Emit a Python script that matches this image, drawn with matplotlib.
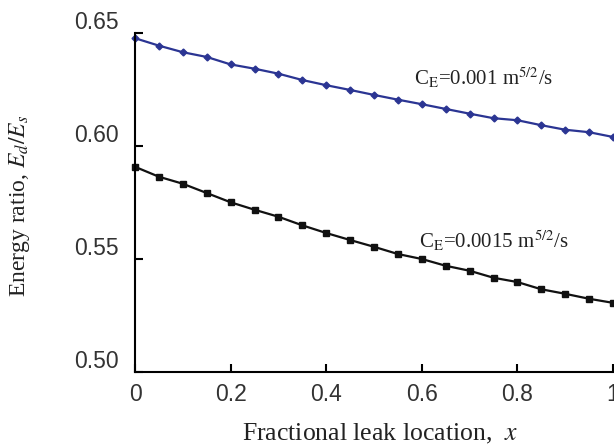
import matplotlib
matplotlib.use("Agg")
import matplotlib.pyplot as plt
import matplotlib.transforms as mtransforms

# fractional leak location
x = [0.0, 0.05, 0.1, 0.15, 0.2, 0.25, 0.3, 0.35, 0.4, 0.45, 0.5,
     0.55, 0.6, 0.65, 0.7, 0.75, 0.8, 0.85, 0.9, 0.95, 1.0]
# C_E = 0.001
ratio_001 = [0.6477, 0.6444, 0.6415, 0.6394, 0.6361, 0.6342, 0.6320, 0.6292,
             0.6269, 0.6248, 0.6226, 0.6205, 0.6185, 0.6164, 0.6143, 0.6123,
             0.6114, 0.6092, 0.6072, 0.6061, 0.6040]
# C_E = 0.0015
ratio_0015 = [0.5908, 0.5864, 0.5833, 0.5792, 0.5751, 0.5718, 0.5687, 0.5649,
              0.5615, 0.5584, 0.5554, 0.5522, 0.5500, 0.5470, 0.5448, 0.5417,
              0.5398, 0.5366, 0.5346, 0.5324, 0.5306]
xticks = [0, 0.2, 0.4, 0.6, 0.8, 1]
xticklabels = ["0", "0.2", "0.4", "0.6", "0.8", "1"]
yticks = [0.50, 0.55, 0.60, 0.65]
yticklabels = ["0.50", "0.55", "0.60", "0.65"]

plt.rcParams['mathtext.fontset'] = 'stix'
serif = ['Liberation Serif', 'DejaVu Serif']
sans = ['Liberation Sans', 'DejaVu Sans']

fig = plt.figure(figsize=(6.14, 4.47), dpi=100)
ax = fig.add_axes([135/614, 1-372/447, (613-135)/614, (372-33)/447])

ax.plot(x, ratio_001, color='#2b3593', lw=1.6, marker='D', ms=3.5, clip_on=False)
ax.plot(x, ratio_0015, color='#111111', lw=1.6, marker='s', ms=4.5, clip_on=False)

ax.set_xlim(0, 1)
ax.set_ylim(0.50, 0.65)
ax.spines['top'].set_visible(False)
ax.spines['right'].set_visible(False)
for s in ['left', 'bottom']:
    ax.spines[s].set_linewidth(1.5)
ax.tick_params(direction='in', length=6, width=1.5, labelsize=16.5)
ax.tick_params(axis='y', pad=12)
ax.tick_params(axis='x', pad=8)
ax.set_xticks(xticks)
ax.set_xticklabels(xticklabels, family=sans, color='#333333')
ax.set_yticks(yticks)
ax.set_yticklabels(yticklabels, family=sans, color='#333333')

# y tick labels sit a bit above their ticks
off = mtransforms.ScaledTranslation(0, 13/100, fig.dpi_scale_trans)
for lab in ax.get_yticklabels():
    lab.set_transform(lab.get_transform() + off)

ax.text(0.583, 0.6302, r'C$_\mathrm{E}$=0.001 m$^{5/2}$/s', family=serif,
        fontsize=15, color='#222222', va='center')
ax.text(0.595, 0.5578, r'C$_\mathrm{E}$=0.0015 m$^{5/2}$/s', family=serif,
        fontsize=15, color='#222222', va='center')

fig.text(380/614, 1-434/447, r'Fractional leak location,  $x$', family=serif,
         fontsize=18.5, color='#222222', ha='center', va='center')
fig.text(20/614, 1-206/447, r'Energy ratio, $E_d/E_s$', family=serif,
         fontsize=17, color='#222222', ha='center', va='center', rotation=90)

fig.savefig('out.png', dpi=100)
